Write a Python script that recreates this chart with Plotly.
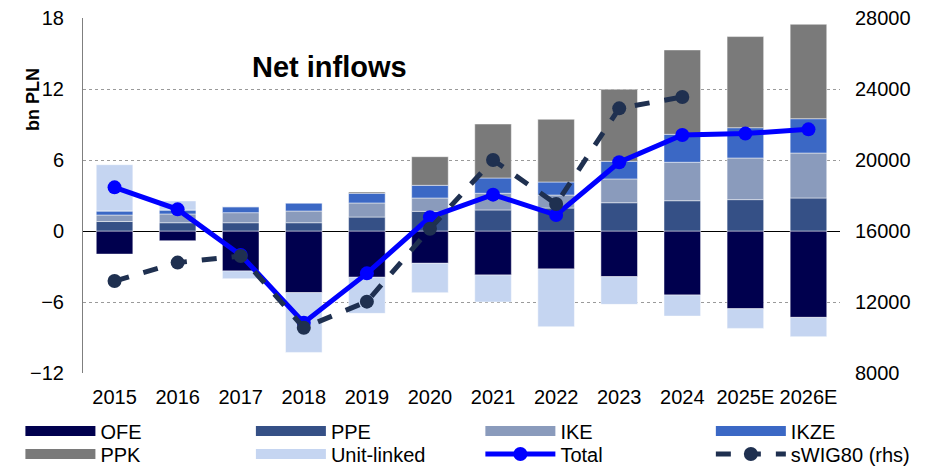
import plotly.graph_objects as go

years = ["2015", "2016", "2017", "2018", "2019", "2020", "2021", "2022", "2023", "2024", "2025E", "2026E"]
ofe = [-1.95, -0.82, -3.38, -5.21, -3.91, -2.73, -3.72, -3.21, -3.86, -5.41, -6.57, -7.30]
ppe = [0.80, 0.70, 0.70, 0.70, 1.18, 1.66, 1.78, 1.94, 2.39, 2.56, 2.65, 2.79]
ike = [0.55, 0.74, 0.85, 0.99, 1.19, 1.13, 1.41, 1.10, 2.01, 3.25, 3.52, 3.80]
ikze = [0.35, 0.34, 0.50, 0.68, 0.82, 1.07, 1.29, 1.10, 1.49, 2.36, 2.56, 2.90]
ppk = [0.0, 0.0, 0.0, 0.0, 0.11, 2.42, 4.56, 5.30, 6.09, 7.13, 7.70, 7.98]
unit_linked = [3.90, 0.76, -0.65, -5.05, -3.05, -2.48, -2.28, -4.88, -2.34, -1.78, -1.66, -1.63]
total = [3.69, 1.83, -2.03, -7.75, -3.58, 1.16, 3.07, 1.35, 5.81, 8.11, 8.23, 8.59]
swig80 = [13180, 14220, 14590, 10550, 12020, 16130, 20000, 17520, 22910, 23550, None, None]

left_ticks = [-12, -6, 0, 6, 12, 18]
right_ticks = [8000, 12000, 16000, 20000, 24000, 28000]

bar_series = [
    ("OFE", ofe, "#00004E"),
    ("PPE", ppe, "#355086"),
    ("IKE", ike, "#8A9BBC"),
    ("IKZE", ikze, "#3B68C5"),
    ("PPK", ppk, "#7A7A7A"),
    ("Unit-linked", unit_linked, "#C5D5F1"),
]

FONT = "Liberation Sans, Arial, sans-serif"
OFF = 8  # page body margin offset
# target plot area on screen (pixels)
SL, SR, ST, SB = 83, 845, 18, 373
W, H = 917, 520
ML, MR, MT = SL - OFF, W - (SR - OFF), ST - OFF
MB = H - (SB - OFF)

def fx(X): return (X - SL) / (SR - SL)
def fy(Y): return (SB - Y) / (SB - ST)

fig = go.Figure()

for name, vals, col in bar_series:
    fig.add_trace(go.Bar(
        x=years, y=vals, name=name,
        marker=dict(color=col, line=dict(color="rgba(255,255,255,0.6)", width=0.8)),
        showlegend=False, legendgroup=name))

legend_ids = ["legend", "legend2", "legend3", "legend4",
              "legend5", "legend6", "legend7", "legend8"]

for i, (name, vals, col) in enumerate(bar_series):
    fig.add_trace(go.Scatter(
        x=[None], y=[None], mode="lines", name=name,
        line=dict(color=col, width=11), legendgroup=name, showlegend=True,
        legend=legend_ids[i]))

fig.add_trace(go.Scatter(
    x=years, y=total, name="Total", mode="lines+markers", legend=legend_ids[6],
    line=dict(color="#0000FF", width=5), marker=dict(size=14, color="#0000FF")))

fig.add_trace(go.Scatter(
    x=years, y=swig80, name="sWIG80 (rhs)", mode="lines+markers", yaxis="y2",
    legend=legend_ids[7],
    line=dict(color="#1F3050", width=5, dash="dash"), marker=dict(size=14, color="#1F3050")))

swatch_x = [24, 256, 487, 719]
row_y = [431, 454]
legends = {}
for i, lid in enumerate(legend_ids):
    legends[lid] = dict(
        orientation="h", xanchor="left", yanchor="middle",
        x=fx(swatch_x[i % 4] - 4), y=fy(row_y[i // 4]),
        font=dict(size=20), itemwidth=70, tracegroupgap=0,
        bgcolor="rgba(0,0,0,0)")

fig.update_layout(
    width=W, height=H,
    margin=dict(l=ML, r=MR, t=MT, b=MB),
    paper_bgcolor="white", plot_bgcolor="white",
    barmode="relative", bargap=0.42,
    font=dict(family=FONT, size=20, color="black"),
    xaxis=dict(type="category", showgrid=False, showline=False,
               ticks="", tickfont=dict(size=20), range=[-0.5, 11.5],
               ticklabelstandoff=10, automargin=False),
    yaxis=dict(range=[-12, 18], tickvals=left_ticks, showgrid=True,
               gridcolor="#9A9A9A", griddash="dot", gridwidth=1, zeroline=True,
               zerolinecolor="black", zerolinewidth=1.2, showline=True, linecolor="#7F7F7F",
               linewidth=1, ticks="", tickfont=dict(size=20), ticklabelstandoff=14,
               ticklabeloverflow="allow", automargin=False),
    yaxis2=dict(range=[8000, 28000], tickvals=right_ticks,
                tickformat="d", overlaying="y", side="right", showgrid=False,
                zeroline=False, showline=False, ticks="", tickfont=dict(size=20),
                ticklabelstandoff=14, ticklabeloverflow="allow", automargin=False),
    annotations=[
        dict(text="<b>Net inflows</b>", x=fx(251), y=fy(49), xref="paper", yref="paper",
             showarrow=False, font=dict(size=29, color="black")),
        dict(text="<b>bn PLN</b>", textangle=-90, x=fx(20), y=fy(66), xref="paper",
             yref="paper", showarrow=False, font=dict(size=18, color="black")),
    ],
    **legends,
)

fig.write_html("out.html")
